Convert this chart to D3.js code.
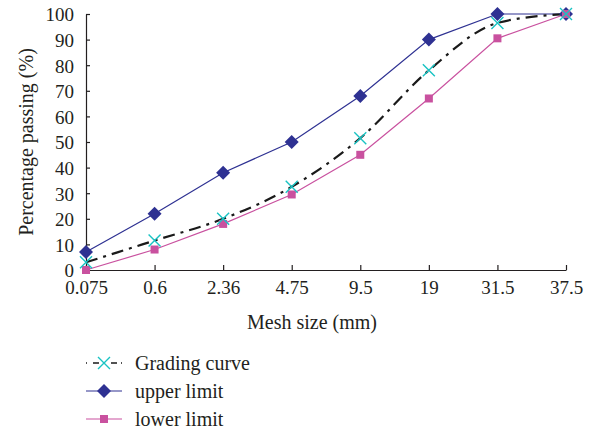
<!DOCTYPE html>
<html>
<head>
<meta charset="utf-8">
<script src="https://cdn.jsdelivr.net/npm/d3@7"></script>
<style>
  body { margin: 0; background: #fff; }
  text { font-family: "Liberation Serif", "DejaVu Serif", serif; fill: #231f20; }
</style>
</head>
<body>
<svg id="chart" width="593" height="434"></svg>
<script>
var sizes = ["0.075", "0.6", "2.36", "4.75", "9.5", "19", "31.5", "37.5"];
var grading = [3, 11.5, 20, 32.5, 51.5, 78, 96.5, 100];
var upper = [7, 22, 38, 50, 68, 90, 100, 100];
var lower = [0, 8, 18, 29.5, 45, 67, 90.5, 100];
var yTicks = [0, 10, 20, 30, 40, 50, 60, 70, 80, 90, 100];

var svg = d3.select("#chart"),
    plotL = 86, plotR = 566, plotT = 14, plotB = 270;

var x = d3.scalePoint().domain(sizes).range([plotL, plotR]);
var y = d3.scaleLinear().domain([0, 100]).range([plotB, plotT]);

// axes
var yAxis = svg.append("g")
    .attr("transform", "translate(" + plotL + ",0)")
    .call(d3.axisLeft(y).tickValues(yTicks).tickSizeInner(-4).tickSizeOuter(0).tickPadding(12));
var xAxis = svg.append("g")
    .attr("transform", "translate(0," + plotB + ")")
    .call(d3.axisBottom(x).tickSizeInner(-5).tickSizeOuter(0).tickPadding(11));

[yAxis, xAxis].forEach(function (a) {
    a.selectAll("path, line").attr("stroke", "#231f20").attr("stroke-width", 1.2);
    a.selectAll("text").style("font-size", "19px").attr("fill", "#231f20")
        .style("font-family", "'Liberation Serif', serif");
});
yAxis.selectAll("text").attr("dy", "0.36em");

svg.append("text")
    .attr("transform", "translate(33," + 142 + ") rotate(-90)")
    .attr("text-anchor", "middle")
    .style("font-size", "20px")
    .text("Percentage passing (%)");

svg.append("text")
    .attr("x", 312)
    .attr("y", 329)
    .attr("text-anchor", "middle")
    .style("font-size", "20px")
    .text("Mesh size (mm)");

var navy = "#2e3192", pink = "#c9519f", cyan = "#19c3c3";

function pts(vals) {
    return vals.map(function (v, i) { return [x(sizes[i]), y(v)]; });
}

var straight = d3.line();
var smooth = d3.line().curve(d3.curveMonotoneX);

svg.append("path").attr("d", straight(pts(lower)))
    .attr("fill", "none").attr("stroke", pink).attr("stroke-width", 1.2);
svg.append("path").attr("d", straight(pts(upper)))
    .attr("fill", "none").attr("stroke", navy).attr("stroke-width", 1.2);
svg.append("path").attr("d", smooth(pts(grading)))
    .attr("fill", "none").attr("stroke", "#1a1a1a").attr("stroke-width", 2.2)
    .attr("stroke-dasharray", "12,6,3,6");

function diamond(g, cx, cy) {
    var r = 7;
    g.append("path")
        .attr("d", "M" + cx + "," + (cy - r) + "L" + (cx + r) + "," + cy +
                   "L" + cx + "," + (cy + r) + "L" + (cx - r) + "," + cy + "Z")
        .attr("fill", navy);
}
function square(g, cx, cy) {
    g.append("rect").attr("x", cx - 4).attr("y", cy - 4).attr("width", 8).attr("height", 8)
        .attr("fill", pink);
}
function cross(g, cx, cy) {
    g.append("path")
        .attr("d", "M" + (cx - 6) + "," + (cy - 6) + "L" + (cx + 6) + "," + (cy + 6) +
                   "M" + (cx - 6) + "," + (cy + 6) + "L" + (cx + 6) + "," + (cy - 6))
        .attr("stroke", cyan).attr("stroke-width", 1.4);
}

var marks = svg.append("g");
pts(upper).forEach(function (p) { diamond(marks, p[0], p[1]); });
pts(lower).forEach(function (p) { square(marks, p[0], p[1]); });
pts(grading).forEach(function (p) { cross(marks, p[0], p[1]); });

// legend
var legend = svg.append("g");
var rows = [
    { label: "Grading curve", y: 363 },
    { label: "upper limit", y: 391 },
    { label: "lower limit", y: 419 }
];
rows.forEach(function (r, i) {
    if (i == 0) {
        legend.append("line").attr("x1", 86).attr("x2", 122).attr("y1", r.y).attr("y2", r.y)
            .attr("stroke", "#1a1a1a").attr("stroke-width", 1.5)
            .attr("stroke-dasharray", "1,6,6,12,6,4");
        cross(legend, 104, r.y);
    } else if (i == 1) {
        legend.append("line").attr("x1", 86).attr("x2", 122).attr("y1", r.y).attr("y2", r.y)
            .attr("stroke", navy).attr("stroke-width", 1.2);
        diamond(legend, 104, r.y);
    } else {
        legend.append("line").attr("x1", 86).attr("x2", 122).attr("y1", r.y).attr("y2", r.y)
            .attr("stroke", pink).attr("stroke-width", 1.2);
        square(legend, 104, r.y);
    }
    legend.append("text").attr("x", 135).attr("y", r.y).attr("dy", "0.35em")
        .style("font-size", "20px").text(r.label);
});
</script>
</body>
</html>
